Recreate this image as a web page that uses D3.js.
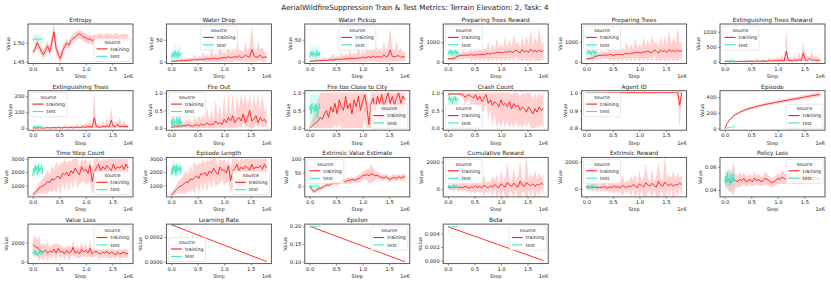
<!DOCTYPE html>
<html>
<head>
<meta charset="utf-8">
<script src="https://cdn.jsdelivr.net/npm/d3@7"></script>
<style>
  body { margin: 0; background: #fff; }
  text { font-family: "DejaVu Sans", sans-serif; fill: #222; }
</style>
</head>
<body>
<div id="chart"></div>
<script>
// steps are in units of 1e4
var trainStep = [0,4,8,12,16,20,24,28,32,36, 40,44,48,52,56,60,64,68,72,76,
  80,84,88,92,96,100,104,108,112,116, 120,124,128,132,136,140,144,148,152,156, 160,164,168,172,176,180];
var testStep = [0,1.5,3,4.5,6,7.5,9,10.5,12,13.5,15,16.5,18,19];
var lineStep = [0, 180];
var lineTestStep = [0, 19];
var xTickLabels = ["0.0", "0.5", "1.0", "1.5"];

var entropyTrain = [1.475,1.482,1.500,1.490,1.478,1.468,1.480,1.492,1.476,1.502,
  1.530,1.485,1.470,1.458,1.478,1.490,1.500,1.494,1.506,1.512,
  1.516,1.521,1.525,1.520,1.516,1.514,1.510,1.511,1.506,1.510,
  1.511,1.513,1.515,1.510,1.512,1.515,1.511,1.513,1.510,1.514,
  1.512,1.510,1.512,1.513,1.510,1.512];
var entropyTrainSpread = [.008,.010,.015,.012,.012,.012,.014,.015,.012,.018,
  .025,.020,.015,.014,.015,.014,.012,.012,.012,.012,
  .012,.011,.012,.012,.012,.013,.013,.012,.012,.012,
  .012,.012,.012,.012,.012,.012,.012,.012,.012,.012,
  .012,.012,.012,.012,.012,.012];
var entropyTest = [1.510,1.512,1.508,1.511,1.509,1.512,1.510,1.508,1.511,1.510,1.512,1.509,1.510,1.511];
var entropyTestSpread = [.012,.013,.012,.014,.012,.013,.012,.012,.013,.012,.014,.012,.013,.012];
var entropyTicks = ["1.45", "1.50"];

var waterDropTrain = [1,1,1.5,2,2,2.5,3,3,3.5,4, 4,5,4,5,6,5,6,7,6,7,
  8,7,6,8,9,10,8,12,9,10, 12,10,14,9,11,15,12,10,28,14, 10,12,15,9,11,10];
var waterDropTrainSpread = [1,2,2,4,2,6,3,8,3,5, 4,12,5,8,5,18,6,10,6,22,
  7,12,8,30,8,15,9,35,10,20, 10,40,12,18,12,30,14,25,55,20, 12,38,12,25,10,12];
var waterDropTest = [8,18,12,22,10,25,14,20,9,24,12,18,15,22];
var waterDropTestSpread = [8,15,12,20,10,25,15,18,10,28,12,20,15,25];

var waterPickupTrain = [1,1.5,1.5,2,2.5,2.5,3,3.5,3,4, 4.5,4,5,5.5,5,6,6.5,6,7,8,
  7,8,7,9,8,11,9,10,12,9, 13,10,12,11,10,16,11,13,27,12, 11,13,14,10,12,11];
var waterPickupTrainSpread = [1,2,3,5,2,5,3,7,3,6, 5,14,5,9,5,16,6,12,6,20,
  7,14,8,28,8,16,9,32,10,22, 10,36,12,20,12,32,14,26,52,18, 12,35,12,22,10,12];
var waterPickupTest = [10,20,14,25,12,22,16,19,11,26,14,20,13,23];
var waterPickupTestSpread = [10,18,12,22,11,24,14,20,12,28,12,22,14,26];
var waterTicks = ["0", "50"];

var prepRewardTrain = [150,150,160,170,250,300,320,330,340,320, 350,360,340,330,370,350,380,360,400,420,
  380,450,420,500,460,480,440,520,480,550, 500,480,600,520,450,620,500,560,480,640, 520,580,500,600,520,560];
var prepRewardTrainSpread = [40,50,70,150,100,200,120,250,130,200, 150,400,160,300,170,500,180,350,200,600,
  200,500,220,700,240,450,250,800,260,600, 280,900,300,500,300,700,300,800,350,1000, 350,700,400,1200,350,500];
var prepRewardTest = [350,520,430,600,380,560,320,500,460,620,360,520,400,550];
var prepRewardTestSpread = [200,300,250,350,220,300,200,320,260,330,200,300,240,300];

var prepTreesTrain = [140,150,170,180,260,290,330,320,350,330, 340,370,350,320,380,360,370,350,410,430,
  390,440,430,490,470,470,450,510,490,560, 490,470,610,530,440,610,510,570,470,630, 530,570,510,590,530,570];
var prepTreesTrainSpread = [40,60,70,160,100,210,120,240,140,210, 150,380,170,320,170,480,190,360,200,620,
  210,480,220,720,230,460,250,780,270,620, 280,880,300,520,310,720,300,780,340,980, 360,720,390,1150,350,520];
var prepTreesTest = [360,510,440,590,390,550,330,510,450,610,370,510,410,560];
var prepTreesTestSpread = [210,290,260,340,230,310,210,310,250,320,210,290,250,310];
var prepTicks = ["0", "1000"];

var extRewardTreesTrain = [5,10,5,15,10,5,10,20,10,15, 20,10,25,15,10,30,20,15,35,10,
  25,40,20,30,50,25,60,40,30,350, 50,40,30,60,45,80,40,300,60,50, 120,40,70,50,60,40];
var extRewardTreesTrainSpread = [10,20,12,30,15,25,15,40,15,40, 20,50,25,70,20,90,25,60,30,100,
  30,120,30,100,40,150,40,200,40,750, 50,150,40,200,50,250,40,400,60,150, 60,300,50,200,60,100];
var extRewardTreesTest = [10,30,20,40,15,35,20,45,25,30,15,40,20,30];
var extRewardTreesTestSpread = [40,80,60,120,50,100,60,150,70,90,50,110,60,80];
var extRewardTreesTicks = ["0", "500", "1000"];

var extTreesTrain = [1,2,1,3,2,1,2,4,2,3, 4,2,5,3,2,6,4,3,7,2,
  5,8,4,6,10,5,12,8,6,65, 10,8,6,12,9,16,8,50,12,10, 25,8,14,10,12,8];
var extTreesTrainSpread = [2,4,2,6,3,5,3,8,3,8, 4,10,5,14,4,18,5,12,6,20,
  6,24,6,20,8,30,8,40,8,160, 10,30,8,40,10,50,8,80,12,30, 12,60,10,40,12,20];
var extTreesTest = [2,10,5,15,3,12,6,18,4,10,2,14,5,8];
var extTreesTestSpread = [4,12,8,15,5,12,8,16,6,12,4,14,6,10];
var extTreesTicks = ["0", "100", "200"];

var fireOutTrain = [.02,.03,.05,.04,.06,.05,.08,.06,.10,.07, .05,.08,.10,.06,.12,.08,.10,.15,.08,.12,
  .10,.20,.12,.15,.10,.25,.15,.30,.20,.35, .15,.25,.30,.20,.40,.15,.30,.50,.20,.25, .35,.15,.30,.20,.25,.15];
var fireOutTrainSpread = [.05,.08,.06,.15,.06,.12,.08,.20,.08,.20, .08,.25,.10,.30,.10,.35,.12,.45,.12,.40,
  .15,.60,.15,.50,.15,.70,.20,.80,.20,.90, .20,.70,.25,.80,.25,.90,.25,.90,.25,.70, .25,.80,.20,.80,.20,.50];
var fireOutTest = [.05,.25,.10,.30,.05,.20,.15,.30,.00,.25,.10,.30,.05,.20];
var fireOutTestSpread = [.10,.20,.15,.25,.10,.20,.15,.25,.05,.20,.15,.25,.10,.20];

var fireCityTrain = [0,.05,.10,.15,.20,.30,.25,.40,.50,.30, .60,.45,.70,.40,.80,.60,.50,.90,.55,.70,
  .40,.80,.60,.90,.50,.75,.95,.60,.10,.70, .85,.50,.90,.70,.95,.60,.80,1.0,.70,.90, .65,.85,1.0,.70,.90,.80];
var fireCityTrainSpread = [.05,.15,.30,.50,.60,.80,.90,1,.6,1, .6,1,.6,1,.7,1,.6,1,.6,1,
  .6,1,.6,1,.6,1,.7,1,.6,1, .6,1,.6,1,.7,1,.6,1,.6,1, .6,1,.7,1,.6,1];
var fireCityTest = [.50,.65,.40,.70,.55,.60,.45,.70,.50,.65,.30,.60,.55,.70];
var fireCityTestSpread = [.5,.5,.5,.5,.5,.5,.5,.5,.5,.5,.5,.5,.5,.5];

var crashTrain = [.95,.97,.97,.97,.97,.97,.96,.95,.88,.92, .95,.90,.85,.95,.80,.90,.75,.85,.95,.70,
  .80,.65,.75,.70,.60,.80,.65,.70,.60,.75, .55,.70,.60,.65,.50,.60,.55,.45,.60,.50, .40,.55,.45,.60,.50,.55];
var crashTrainSpread = [.05,.03,.03,.03,.03,.04,.06,.10,.20,.15, .15,.25,.15,.35,.20,.30,.25,.40,.20,.45,
  .30,.60,.35,.70,.40,.80,.40,.80,.40,.80, .40,.80,.40,.80,.40,.80,.40,.80,.40,.80, .40,.80,.40,.80,.40,.80];
var crashTest = [.85,.80,.90,.75,.85,.80,.70,.85,.80,.90,.75,.80,.85,.80];
var crashTestSpread = [.15,.20,.15,.25,.20,.20,.30,.20,.15,.20,.25,.20,.15,.20];
var unitTicks = ["0.0", "0.5", "1.0"];

var agentTrain = [1,1,1,1,1,1,1,1,1,1, 1,1,1,1,1,1,1,1,1,1, 1,1,1,1,1,1,1,1,1,1,
  1,1,1,1,1,1,1,1,1,1, 1,1,1,1,.93,1];
var agentTrainSpread = [0,0,0,0,0,0,0,0,0,0, 0,0,0,0,0,0,0,0,0,0, 0,0,0,0,0,0,0,0,0,0,
  0,0,0,0,0,0,0,0,0,0, 0,0,0,0,.13,0];
var agentTest = [1,1,1,1,1,1,1,1,1,1,1,1,1,1];
var agentTestSpread = [0,0,0,0,0,0,0,0,0,0,0,0,0,0];
var agentTicks = ["0.8", "0.9", "1.0"];

var episodeTrain = [0,60,100,130,155,175,190,205,218,230, 240,250,258,265,272,280,287,293,299,305,
  311,316,321,326,331,336,341,346,351,356, 361,366,371,376,381,386,391,396,401,406, 411,416,420,424,428,432];
var episodeTrainSpread = [0,5,8,10,10,12,12,14,14,15, 15,16,16,17,17,18,18,18,19,19,
  20,20,20,21,21,21,22,22,22,23, 23,23,24,24,24,25,25,25,26,26, 26,27,27,28,28,28];
var episodeTest = [0,3,5,7,9,11,13,15,17,19,21,22,24,26];
var episodeTestSpread = [0,1,1,1,1,1,1,1,1,1,1,1,1,1];
var episodeTicks = ["0", "200", "400"];

var stepCountTrain = [300,450,600,800,900,1000,1100,1300,1200,1500, 1400,1600,1700,1500,1900,1800,2000,1700,2100,1900,
  2300,2000,1800,2400,2100,2200,1900,2500,1300,2000, 2300,2600,2100,2400,2200,2500,2300,2100,2600,2200, 2400,2300,2500,2200,2600,2300];
var stepCountTrainSpread = [100,200,300,400,500,600,700,900,600,1000, 700,1200,700,1200,700,1200,700,1200,700,1200,
  700,1200,700,1200,700,1200,700,1200,900,1200, 700,1200,700,1200,700,1200,700,1200,700,1200, 700,1200,700,1200,700,1200];
var stepCountTest = [1700,2300,1900,2500,2100,2400,1800,2600,2000,2300,2200,2500,1900,2300];
var stepCountTestSpread = [500,500,500,500,500,500,500,500,500,500,500,500,500,500];

var epLengthTrain = [280,430,620,780,920,980,1120,1280,1220,1480, 1420,1580,1720,1520,1880,1820,1980,1720,2080,1920,
  2280,2020,1820,2380,2120,2180,1920,2480,1350,2020, 2280,2580,2120,2380,2220,2480,2320,2120,2580,2220, 2380,2320,2480,2220,2580,2320];
var epLengthTrainSpread = [100,200,300,400,500,600,700,900,600,1000, 700,1200,700,1200,700,1200,700,1200,700,1200,
  700,1200,700,1200,700,1200,700,1200,900,1200, 700,1200,700,1200,700,1200,700,1200,700,1200, 700,1200,700,1200,700,1200];
var epLengthTest = [1750,2350,1850,2550,2050,2450,1750,2550,2050,2350,2150,2450,1950,2350];
var epLengthTestSpread = [500,500,500,500,500,500,500,500,500,500,500,500,500,500];
var stepTicks = ["1000", "2000", "3000"];

var valueEstTrain = [0,-10,-20,-15,-10,-8,-5,0,5,3, 8,10,12,10,15,18,20,15,22,20,
  25,22,24,28,30,38,40,42,38,45, 42,38,40,35,32,30,35,28,25,30, 32,28,35,30,33,35];
var valueEstTrainSpread = [5,8,8,8,7,7,6,6,6,6, 6,7,7,8,8,8,10,10,12,12,
  10,10,12,14,15,15,15,20,25,35, 25,15,12,12,12,10,10,12,10,10, 12,10,10,10,12,12];
var valueEstTest = [-2,0,2,-3,1,0,-2,3,0,-1,2,0,-3,1];
var valueEstTestSpread = [8,10,12,9,10,8,12,10,9,11,10,8,12,10];
var valueEstTicks = ["0", "50", "100"];

var cumRewardTrain = [150,100,150,120,200,80,150,100,200,150, 50,180,100,250,120,200,80,300,150,100,
  250,150,350,200,100,400,250,150,500,300, 200,450,250,150,600,300,200,500,350,250, 400,200,350,300,450,300];
var cumRewardTrainSpread = [100,150,200,300,200,350,200,300,250,400, 200,500,250,600,250,500,250,800,300,500,
  300,800,300,900,300,1000,350,700,1500,500, 350,1100,350,800,1500,500,400,2000,400,900, 400,1200,400,900,400,800];
var cumRewardTest = [100,300,150,250,50,200,100,300,150,250,100,200,150,250];
var cumRewardTestSpread = [150,250,200,300,150,250,200,300,150,250,200,250,150,250];

var extRewardTrain = [140,110,160,110,190,90,140,110,190,160, 60,170,110,240,130,190,90,290,160,110,
  240,160,340,210,110,390,260,160,480,310, 210,440,260,160,580,310,210,520,340,260, 390,210,340,310,440,310];
var extRewardTrainSpread = [100,150,200,300,200,350,200,300,250,400, 200,500,250,600,250,500,250,800,300,500,
  300,800,300,900,300,1000,350,700,1400,500, 350,1100,350,800,1400,500,400,2000,400,900, 400,1200,400,900,400,800];
var extRewardTest = [110,290,160,240,60,210,110,290,160,240,110,210,160,240];
var extRewardTestSpread = [150,250,200,300,150,250,200,300,150,250,200,250,150,250];
var rewardTicks = ["0", "2000"];

var policyLossTrain = [.047,.048,.049,.046,.050,.048,.047,.049,.048,.050, .047,.048,.049,.047,.050,.048,.049,.047,.048,.050,
  .049,.048,.046,.047,.048,.050,.049,.051,.050,.049, .050,.051,.049,.050,.051,.050,.049,.051,.050,.052, .050,.049,.051,.050,.049,.050];
var policyLossTrainSpread = [.004,.006,.010,.008,.015,.006,.005,.006,.005,.005, .005,.004,.005,.004,.006,.004,.005,.004,.004,.006,
  .005,.004,.004,.004,.004,.005,.004,.006,.005,.004, .004,.005,.004,.005,.004,.005,.004,.006,.004,.005, .004,.004,.005,.004,.004,.004];
var policyLossTest = [.048,.052,.045,.055,.047,.050,.044,.053,.049,.046,.054,.048,.050,.047];
var policyLossTestSpread = [.006,.008,.010,.012,.008,.006,.010,.008,.006,.008,.010,.006,.008,.006];
var policyLossTicks = ["0.04", "0.06"];

var valueLossTrain = [1800,1600,1500,1300,1100,1000,1200,900,1100,1000, 1300,900,1400,1000,1100,800,1200,900,1000,1500,
  900,1100,800,1300,1000,1200,900,1400,800,1000, 1100,900,800,1000,900,1100,800,1000,900,700, 1000,800,900,1000,800,900];
var valueLossTrainSpread = [500,1200,800,1500,600,1000,500,1200,500,800, 500,1000,400,800,400,700,400,900,400,800,
  400,700,400,800,400,700,400,900,400,600, 400,700,400,600,400,800,400,700,400,500, 400,700,400,600,400,500];
var valueLossTest = [1000,800,1200,700,1100,900,600,1000,800,1200,900,700,1000,900];
var valueLossTestSpread = [300,250,350,300,300,250,300,350,300,300,250,300,300,250];
var valueLossTicks = ["0", "2000"];

var learningRateTrain = [0.0003, 0.0];
var learningRateTest = [0.0003, 0.0003];
var learningRateTicks = ["0.0000", "0.0002"];
var epsilonTrain = [0.2, 0.1];
var epsilonTest = [0.2, 0.2];
var epsilonTicks = ["0.10", "0.15", "0.20"];
var betaTrain = [0.005, 0.0];
var betaTest = [0.005, 0.005];
var betaTicks = ["0.000", "0.002", "0.004"];

function band(mean, spread) { return { mean: mean, spread: spread }; }

var panels = [
  { title: "Entropy", tr: band(entropyTrain, entropyTrainSpread), te: band(entropyTest, entropyTestSpread), y: [1.4445, 1.551], ticks: entropyTicks, leg: "lr" },
  { title: "Water Drop", tr: band(waterDropTrain, waterDropTrainSpread), te: band(waterDropTest, waterDropTestSpread), y: [-4, 86], ticks: waterTicks, leg: "uc", lo: 0 },
  { title: "Water Pickup", tr: band(waterPickupTrain, waterPickupTrainSpread), te: band(waterPickupTest, waterPickupTestSpread), y: [-4, 86], ticks: waterTicks, leg: "uc", lo: 0 },
  { title: "Preparing Trees Reward", tr: band(prepRewardTrain, prepRewardTrainSpread), te: band(prepRewardTest, prepRewardTestSpread), y: [-90, 1930], ticks: prepTicks, leg: "ul", lo: 0 },
  { title: "Preparing Trees", tr: band(prepTreesTrain, prepTreesTrainSpread), te: band(prepTreesTest, prepTreesTestSpread), y: [-90, 1930], ticks: prepTicks, leg: "ul", lo: 0 },
  { title: "Extinguishing Trees Reward", tr: band(extRewardTreesTrain, extRewardTreesTrainSpread), te: band(extRewardTreesTest, extRewardTreesTestSpread), y: [-55, 1260], ticks: extRewardTreesTicks, leg: "ul", lo: 0 },
  { title: "Extinguishing Trees", tr: band(extTreesTrain, extTreesTrainSpread), te: band(extTreesTest, extTreesTestSpread), y: [-12, 235], ticks: extTreesTicks, leg: "ul", lo: 0 },
  { title: "Fire Out", tr: band(fireOutTrain, fireOutTrainSpread), te: band(fireOutTest, fireOutTestSpread), y: [-0.06, 1.06], ticks: unitTicks, leg: "ul", lo: 0, hi: 1 },
  { title: "Fire too Close to City", tr: band(fireCityTrain, fireCityTrainSpread), te: band(fireCityTest, fireCityTestSpread), y: [-0.06, 1.06], ticks: unitTicks, leg: "lr", lo: 0, hi: 1 },
  { title: "Crash Count", tr: band(crashTrain, crashTrainSpread), te: band(crashTest, crashTestSpread), y: [-0.06, 1.06], ticks: unitTicks, leg: "ll", lo: 0, hi: 1 },
  { title: "Agent ID", tr: band(agentTrain, agentTrainSpread), te: band(agentTest, agentTestSpread), y: [0.789, 1.011], ticks: agentTicks, leg: "ul" },
  { title: "Episode", tr: band(episodeTrain, episodeTrainSpread), te: band(episodeTest, episodeTestSpread), y: [-22, 480], ticks: episodeTicks, leg: "lr" },
  { title: "Time Step Count", tr: band(stepCountTrain, stepCountTrainSpread), te: band(stepCountTest, stepCountTestSpread), y: [140, 3100], ticks: stepTicks, leg: "lr", lo: 0, hi: 3000 },
  { title: "Episode Length", tr: band(epLengthTrain, epLengthTrainSpread), te: band(epLengthTest, epLengthTestSpread), y: [140, 3100], ticks: stepTicks, leg: "lr", lo: 0, hi: 3000 },
  { title: "Extrinsic Value Estimate", tr: band(valueEstTrain, valueEstTrainSpread), te: band(valueEstTest, valueEstTestSpread), y: [-39, 105], ticks: valueEstTicks, leg: "ul" },
  { title: "Cumulative Reward", tr: band(cumRewardTrain, cumRewardTrainSpread), te: band(cumRewardTest, cumRewardTestSpread), y: [-575, 2340], ticks: rewardTicks, leg: "ul" },
  { title: "Extrinsic Reward", tr: band(extRewardTrain, extRewardTrainSpread), te: band(extRewardTest, extRewardTestSpread), y: [-575, 2340], ticks: rewardTicks, leg: "ul" },
  { title: "Policy Loss", tr: band(policyLossTrain, policyLossTrainSpread), te: band(policyLossTest, policyLossTestSpread), y: [0.034, 0.068], ticks: policyLossTicks, leg: "ur" },
  { title: "Value Loss", tr: band(valueLossTrain, valueLossTrainSpread), te: band(valueLossTest, valueLossTestSpread), y: [-210, 3960], ticks: valueLossTicks, leg: "ur", lo: 0 },
  { title: "Learning Rate", tr: { mean: learningRateTrain }, te: { mean: learningRateTest }, y: [-0.0000165, 0.000305], ticks: learningRateTicks, leg: "ll", straight: true },
  { title: "Epsilon", tr: { mean: epsilonTrain }, te: { mean: epsilonTest }, y: [0.095, 0.206], ticks: epsilonTicks, leg: "ur", straight: true },
  { title: "Beta", tr: { mean: betaTrain }, te: { mean: betaTest }, y: [-0.00045, 0.0054], ticks: betaTicks, leg: "ur", straight: true }
];

var W = 831, H = 283;
var trainColor = "#ff1a1a", testColor = "#3ee6c2";
var frameColor = "#4a4a4a";

var svg = d3.select("#chart").append("svg")
    .attr("width", W)
    .attr("height", H);

svg.append("text")
    .attr("x", 415)
    .attr("y", 10)
    .attr("text-anchor", "middle")
    .style("font-size", "7.2px")
    .text("AerialWildfireSuppression Train & Test Metrics: Terrain Elevation: 2, Task: 4");

var defs = svg.append("defs");

panels.forEach(function(p, i) {
  var col = i % 6, row = Math.floor(i / 6);
  var left = 28 + col * 138.4,
      top = 24 + row * 66.7,
      w = 105,
      h = 39.5;

  var g = svg.append("g").attr("transform", "translate(" + left + "," + top + ")");

  var x = d3.scaleLinear().domain([-0.09e6, 1.89e6]).range([0, w]);
  var y = d3.scaleLinear().domain(p.y).range([h, 0]);

  defs.append("clipPath").attr("id", "clip" + i)
    .append("rect").attr("width", w).attr("height", h);

  var plot = g.append("g").attr("clip-path", "url(#clip" + i + ")");

  function clampLo(v) { return p.lo !== undefined ? Math.max(p.lo, v) : v; }
  function clampHi(v) { return p.hi !== undefined ? Math.min(p.hi, v) : v; }

  function drawSeries(s, steps, color) {
    var pts = s.mean.map(function(m, k) {
      var sp = s.spread ? s.spread[k] : 0;
      return { x: steps[k] * 1e4, m: m, lo: clampLo(m - sp), hi: clampHi(m + sp) };
    });
    if (s.spread) {
      plot.append("path")
        .datum(pts)
        .attr("fill", color)
        .attr("fill-opacity", 0.2)
        .attr("d", d3.area()
          .x(function(d) { return x(d.x); })
          .y0(function(d) { return y(d.lo); })
          .y1(function(d) { return y(d.hi); }));
    }
    plot.append("path")
      .datum(pts)
      .attr("fill", "none")
      .attr("stroke", color)
      .attr("stroke-width", 0.9)
      .attr("stroke-linejoin", "round")
      .attr("d", d3.line()
        .x(function(d) { return x(d.x); })
        .y(function(d) { return y(d.m); }));
  }

  drawSeries(p.tr, p.straight ? lineStep : trainStep, trainColor);
  drawSeries(p.te, p.straight ? lineTestStep : testStep, testColor);

  // axes
  var xAxis = d3.axisBottom(x)
      .tickValues(xTickLabels.map(function(t) { return +t * 1e6; }))
      .tickFormat(function(d, k) { return xTickLabels[k]; })
      .tickSizeInner(2).tickSizeOuter(0).tickPadding(1.5);
  var gx = g.append("g").attr("transform", "translate(0," + h + ")").call(xAxis);

  var yAxis = d3.axisLeft(y)
      .tickValues(p.ticks.map(Number))
      .tickFormat(function(d, k) { return p.ticks[k]; })
      .tickSizeInner(2).tickSizeOuter(0).tickPadding(1.5);
  var gy = g.append("g").call(yAxis);

  [gx, gy].forEach(function(a) {
    a.select(".domain").remove();
    a.selectAll("line").attr("stroke", frameColor).attr("stroke-width", 0.6);
    a.selectAll("text").style("font-size", "5.2px").attr("fill", "#222").style("font-family", "DejaVu Sans");
  });

  g.append("rect")
    .attr("width", w)
    .attr("height", h)
    .attr("fill", "none")
    .attr("stroke", frameColor)
    .attr("stroke-width", 0.9);

  // title and labels
  g.append("text")
    .attr("x", w / 2)
    .attr("y", -2)
    .attr("text-anchor", "middle")
    .style("font-size", "5.8px")
    .text(p.title);

  g.append("text")
    .attr("x", w / 2)
    .attr("y", h + 14.6)
    .attr("text-anchor", "middle")
    .style("font-size", "5px")
    .text("Step");

  g.append("text")
    .attr("x", w)
    .attr("y", h + 14.6)
    .attr("text-anchor", "end")
    .style("font-size", "5px")
    .text("1e6");

  var yw = gy.node().getBBox().width;
  g.append("text")
    .attr("transform", "translate(" + (-yw - 3) + "," + (h / 2) + ") rotate(-90)")
    .attr("text-anchor", "middle")
    .style("font-size", "5px")
    .text("Value");

  // legend
  var lw = 37, lh = 24, pad = 2;
  var lx = p.leg[1] === "l" ? pad : p.leg[1] === "r" ? w - lw - pad : (w - lw) / 2;
  var ly = p.leg[0] === "u" ? pad : p.leg[0] === "l" ? h - lh - pad : (h - lh) / 2;
  var lg = g.append("g").attr("transform", "translate(" + lx + "," + ly + ")");
  lg.append("rect")
    .attr("width", lw)
    .attr("height", lh)
    .attr("rx", 1.2)
    .attr("fill", "#fff")
    .attr("fill-opacity", 0.8)
    .attr("stroke", "#d0d0d0")
    .attr("stroke-width", 0.5);
  lg.append("text")
    .attr("x", lw / 2)
    .attr("y", 6.2)
    .attr("text-anchor", "middle")
    .style("font-size", "4.8px")
    .text("source");
  [["training", trainColor], ["test", testColor]].forEach(function(e, k) {
    var cy = 11.4 + k * 7.4;
    lg.append("line")
      .attr("x1", 2.5).attr("x2", 13.5)
      .attr("y1", cy).attr("y2", cy)
      .attr("stroke", e[1])
      .attr("stroke-width", 1.1);
    lg.append("text")
      .attr("x", 16.5)
      .attr("y", cy + 1.8)
      .style("font-size", "4.8px")
      .text(e[0]);
  });
});
</script>
</body>
</html>
